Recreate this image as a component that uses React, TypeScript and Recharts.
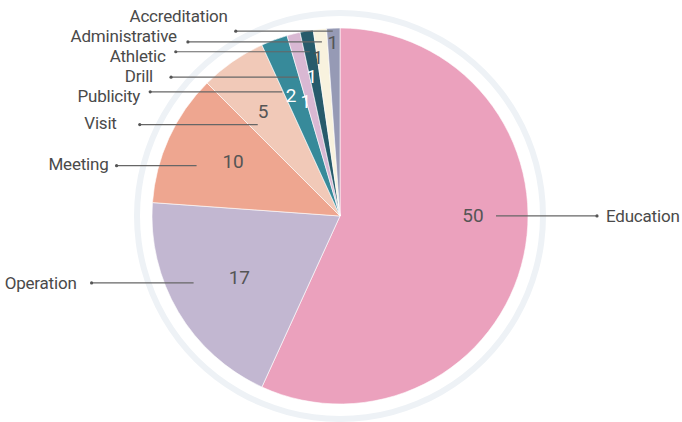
import { PieChart, Pie, Cell } from "recharts"

// slices, clockwise from 12 o'clock
const categories = [
  "Education",
  "Operation",
  "Meeting",
  "Visit",
  "Publicity",
  "Drill",
  "Athletic",
  "Administrative",
  "Accreditation",
]
const counts = [50, 17, 10, 5, 2, 1, 1, 1, 1]

const sliceColors = [
  "#EBA1BD",
  "#C2B7D1",
  "#EEA690",
  "#F1C9B8",
  "#378A9A",
  "#D9B8D3",
  "#275B6B",
  "#F8F2DE",
  "#969AB5",
]
const valueColors = ["#555", "#555", "#555", "#555", "#fff", "#fff", "#fff", "#555", "#555"]

// hand-tuned callout layout (degrees clockwise, px)
const layout = [
  { inShift: -12.3, inR: 156, len: 101, vShift: -12.3, vR: 133, gap: 9, dy: 0 },
  { inShift: 6.1, inR: 161, len: 102, vShift: -0.8, vR: 118, gap: 15, dy: 0 },
  { inShift: -5.2, inR: 152, len: 80, vShift: 2.5, vR: 120, gap: 8, dy: -2 },
  { inShift: -7.2, inR: 123, len: 118, vShift: -1.5, vR: 130, gap: 23, dy: -2 },
  { inShift: -4.5, inR: 137, len: 132, vShift: -1.7, vR: 130, gap: 10, dy: 4 },
  { inShift: -2.5, inR: 145, len: 127, vShift: -2.3, vR: 119, gap: 18, dy: -1 },
  { inShift: -0.2, inR: 167, len: 134, vShift: -1.2, vR: 142, gap: 10, dy: 4 },
  { inShift: 0.2, inR: 175, len: 134, vShift: -1.8, vR: 160, gap: 11, dy: -6 },
  { inShift: -0.2, inR: 185, len: 97, vShift: -0.3, vR: 174, gap: 8, dy: -14.7 },
]

const data = categories.map((name, i) => ({ name, value: counts[i] }))
const ring = [{ name: "ring", value: 1 }]

const FONT = "Roboto, 'Noto Sans', sans-serif"
const RAD = Math.PI / 180

// angle measured clockwise from 12 o'clock
function pt(cx: number, cy: number, cw: number, r: number) {
  return { x: cx + r * Math.sin(cw * RAD), y: cy - r * Math.cos(cw * RAD) }
}

function Callout(props: any) {
  const { cx, cy, midAngle, index, value, name } = props
  const l = layout[index]
  const cw = 90 - midAngle
  const a = pt(cx, cy, cw + l.inShift, l.inR)
  const right = a.x > cx
  const bx = right ? a.x + l.len : a.x - l.len
  const v = pt(cx, cy, cw + l.vShift, l.vR)
  const tx = right ? bx + l.gap : bx - l.gap
  return (
    <g>
      <line x1={a.x} y1={a.y} x2={bx} y2={a.y} stroke="#666" strokeWidth={1.2} />
      <circle cx={bx} cy={a.y} r={1.6} fill="#555" />
      <text
        x={v.x}
        y={v.y}
        textAnchor="middle"
        dominantBaseline="central"
        fill={valueColors[index]}
        fontFamily={FONT}
        fontSize={19}
      >
        {value}
      </text>
      <text
        x={tx}
        y={a.y + l.dy}
        textAnchor={right ? "start" : "end"}
        dominantBaseline="central"
        fill="#4a4a4a"
        fontFamily={FONT}
        fontSize={17}
        letterSpacing={-0.2}
      >
        {name}
      </text>
    </g>
  )
}

export default function App() {
  return (
    <div style={{ position: "absolute", left: 0, top: 0, width: 682, height: 422, background: "#fff" }}>
      <PieChart width={682} height={422} margin={{ top: 0, right: 0, bottom: 0, left: 0 }}>
        <Pie
          data={ring}
          dataKey="value"
          cx={340}
          cy={216}
          innerRadius={200}
          outerRadius={206}
          fill="#EEF2F6"
          stroke="none"
          isAnimationActive={false}
        />
        <Pie
          data={data}
          dataKey="value"
          cx={340}
          cy={216}
          outerRadius={188}
          startAngle={90}
          endAngle={-270}
          stroke="#ffffff"
          strokeWidth={0.6}
          labelLine={false}
          label={Callout}
          isAnimationActive={false}
        >
          {data.map((d, i) => (
            <Cell key={d.name} fill={sliceColors[i]} />
          ))}
        </Pie>
      </PieChart>
    </div>
  )
}
